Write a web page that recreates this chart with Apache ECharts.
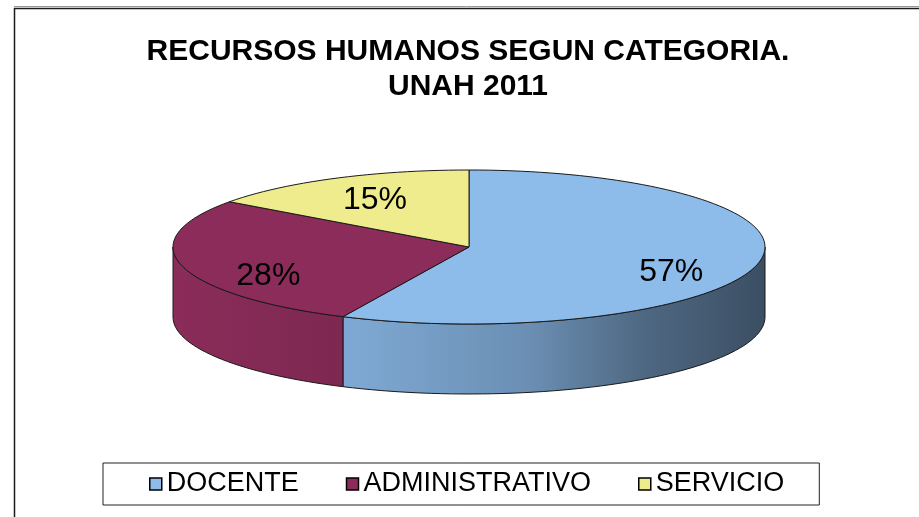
<!DOCTYPE html>
<html>
  <head>
    <meta charset="utf-8" />
    <script src="https://cdn.jsdelivr.net/npm/echarts@6/dist/echarts.min.js"></script>
  </head>
  <body style="margin:0;background:#fff;">
    <div id="main" style="width: 919px;height:517px;"></div>
    <script type="text/javascript">
      var categories = ['DOCENTE', 'ADMINISTRATIVO', 'SERVICIO'];
      var values = [57, 28, 15];
      var colors = ['#8DBCEB', '#8B2C5A', '#EEEC8C'];

      // layout of the tilted pie (pixels)
      var cx = 469, cy = 247, rx = 296, ry = 77, depth = 70;
      var total = values.reduce(function (a, b) { return a + b; }, 0);

      function pt(deg, dy) {
        var r = deg * Math.PI / 180;
        return [cx + rx * Math.sin(r), cy - ry * Math.cos(r) + (dy || 0)];
      }
      function arc(a1, a2, dy) {
        var pts = [];
        var n = Math.max(2, Math.ceil((a2 - a1) / 2));
        for (var k = 0; k <= n; k++) pts.push(pt(a1 + (a2 - a1) * k / n, dy));
        return pts;
      }
      function shade(hex, f) {
        var c = parseInt(hex.slice(1), 16);
        var r = Math.round(((c >> 16) & 255) * f);
        var g = Math.round(((c >> 8) & 255) * f);
        var b = Math.round((c & 255) * f);
        return 'rgb(' + r + ',' + g + ',' + b + ')';
      }

      function makeRender(i) {
        return function (params, api) {
          var before = 0;
          for (var j = 0; j < i; j++) before += values[j];
          var v = api.value(0);
          var a1 = before / total * 360;
          var a2 = (before + v) / total * 360;
          var color = colors[i];
          var children = [];

          // visible outer wall (front half of the ellipse)
          var w1 = Math.max(a1, 90), w2 = Math.min(a2, 270);
          var wallShare = 0;
          if (w2 > w1) {
            wallShare = (w2 - w1) / (a2 - a1);
            var top = arc(w1, w2, 0);
            var bot = arc(w1, w2, depth).reverse();
            children.push({
              type: 'polygon',
              shape: { points: top.concat(bot) },
              style: {
                fill: new echarts.graphic.LinearGradient(cx - rx, 0, cx + rx, 0, [
                  { offset: 0, color: shade(color, 1.0) },
                  { offset: 0.29, color: shade(color, 0.9) },
                  { offset: 0.6, color: shade(color, 0.76) },
                  { offset: 0.8, color: shade(color, 0.55) },
                  { offset: 1, color: shade(color, 0.42) }
                ], true),
                stroke: '#1a1a1a',
                lineWidth: 1
              }
            });
          }

          // top face
          children.push({
            type: 'polygon',
            shape: { points: [[cx, cy]].concat(arc(a1, a2, 0)) },
            style: { fill: color, stroke: '#1a1a1a', lineWidth: 1 }
          });

          // percentage label
          var m = (a1 + a2) / 2;
          var r = m * Math.PI / 180;
          var lx = cx + 0.7 * rx * Math.sin(r);
          var ly = cy - 0.68 * ry * Math.cos(r) + depth * 0.36 * wallShare;
          children.push({
            type: 'text',
            style: {
              text: Math.round(v / total * 100) + '%',
              x: lx, y: ly,
              textAlign: 'center',
              textVerticalAlign: 'middle',
              fontSize: 32,
              fontFamily: '"Liberation Sans", Arial, sans-serif',
              fill: '#000'
            }
          });
          return { type: 'group', children: children };
        };
      }

      var series = categories.map(function (name, i) {
        return {
          name: name,
          type: 'custom',
          coordinateSystem: 'none',
          itemStyle: { color: colors[i] },
          renderItem: makeRender(i),
          data: [[values[i]]]
        };
      });

      var myChart = echarts.init(document.getElementById('main'));
      var option = {
        animation: false,
        backgroundColor: '#fff',
        title: {
          text: 'RECURSOS HUMANOS SEGUN CATEGORIA.\nUNAH 2011',
          left: 468,
          top: 34,
          padding: 0,
          textAlign: 'center',
          textStyle: {
            fontSize: 30,
            fontWeight: 'bold',
            lineHeight: 35,
            color: '#000',
            fontFamily: '"Liberation Sans", Arial, sans-serif'
          }
        },
        legend: {
          data: categories,
          left: 103,
          top: 463,
          padding: [7, 35, 7, 46],
          itemGap: 47,
          itemWidth: 12,
          itemHeight: 12,
          icon: 'rect',
          borderColor: '#222',
          borderWidth: 1,
          selectedMode: false,
          itemStyle: { borderColor: '#000', borderWidth: 1.5 },
          textStyle: {
            fontSize: 27,
            lineHeight: 28,
            color: '#000',
            fontFamily: '"Liberation Sans", Arial, sans-serif'
          }
        },
        graphic: [
          {
            type: 'polyline',
            shape: { points: [[14.5, 517], [14.5, 8.5], [919, 8.5]] },
            style: { stroke: '#1a1a1a', lineWidth: 1.5, fill: null }
          },
          {
            type: 'line',
            shape: { x1: 14, y1: 6.5, x2: 919, y2: 6.5 },
            style: { stroke: '#999', lineWidth: 1 }
          }
        ],
        series: series
      };
      myChart.setOption(option);
    </script>
  </body>
</html>
